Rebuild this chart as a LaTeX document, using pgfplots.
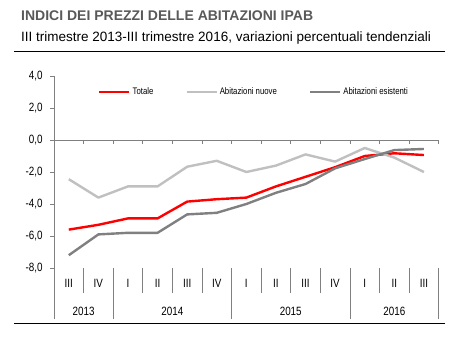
\documentclass[border=0pt]{standalone}
\usepackage{pgfplots}
\pgfplotsset{compat=1.18}
\usepackage{fontspec}
\setmainfont{Liberation Sans}
\newfontfamily\narrow[FakeStretch=0.82]{Liberation Sans}
\definecolor{tot}{RGB}{255,0,0}
\definecolor{nuove}{RGB}{192,192,192}
\definecolor{esist}{RGB}{128,128,128}
\definecolor{titgray}{RGB}{89,89,89}
\definecolor{axgray}{RGB}{128,128,128}
\tikzset{qlab/.style={font=\narrow\fontsize{12bp}{14bp}\selectfont, anchor=center}}
\begin{document}
\begin{tikzpicture}
\begin{scope}[shift={(-54bp,-75bp)}, x=1bp, y=1bp]
\path[use as bounding box] (0,0) rectangle (458,343);
\node[anchor=base west, inner sep=0, font=\bfseries\fontsize{14bp}{16bp}\selectfont, text=titgray] at (21,322.3) {INDICI DEI PREZZI DELLE ABITAZIONI IPAB};
\node[anchor=base west, inner sep=0, font=\fontsize{13.5bp}{16bp}\selectfont] at (21,301.3) {III trimestre 2013-III trimestre 2016, variazioni percentuali tendenziali};
\draw[line width=1.2bp] (14,291.3) -- (445,291.3);
\end{scope}
\begin{axis}[at={(0,0)}, anchor=south west, scale only axis,
  width=384.7bp, height=192bp,
  xmin=-0.5, xmax=12.5, ymin=-8, ymax=4, clip=false,
  axis x line*=middle, axis y line*=left,
  axis line style={line width=0.8bp, color=axgray},
  xtick={-0.5,0.5,...,12.5}, xticklabels={},
  ytick={-8,-6,...,4},
  tick align=outside, major tick length=4bp,
  tick style={line width=0.8bp, color=axgray},
  yticklabel style={font=\narrow\fontsize{12bp}{14bp}\selectfont, xshift=-4bp,
    /pgf/number format/fixed, /pgf/number format/fixed zerofill,
    /pgf/number format/precision=1, /pgf/number format/use comma},
  /pgf/number format/assume math mode=true,
  legend style={at={(0.52,0.917)}, anchor=center, draw=none, fill=none,
    legend columns=3, font=\narrow\fontsize{9.5bp}{11bp}\selectfont,
    /tikz/every even column/.append style={column sep=30bp}},
  legend image code/.code={\draw[#1] (0bp,0bp) -- (30bp,0bp);},
  every axis plot/.append style={line width=2.4bp, line join=round},
]
\addplot[tot] coordinates {(0,-5.6) (1,-5.3) (2,-4.9) (3,-4.9) (4,-3.85) (5,-3.7) (6,-3.6) (7,-2.9) (8,-2.3) (9,-1.7) (10,-1.0) (11,-0.83) (12,-0.94)};
\addlegendentry{Totale}
\addplot[nuove] coordinates {(0,-2.45) (1,-3.6) (2,-2.9) (3,-2.9) (4,-1.67) (5,-1.3) (6,-2.0) (7,-1.6) (8,-0.9) (9,-1.35) (10,-0.5) (11,-1.1) (12,-2.0)};
\addlegendentry{Abitazioni nuove}
\addplot[esist] coordinates {(0,-7.2) (1,-5.9) (2,-5.8) (3,-5.8) (4,-4.65) (5,-4.55) (6,-4.0) (7,-3.3) (8,-2.75) (9,-1.77) (10,-1.19) (11,-0.63) (12,-0.56)};
\addlegendentry{Abitazioni esistenti}
\draw[axgray, line width=0.8bp] (axis cs:-0.5,-8) -- (axis cs:-0.5,-11.2);
\pgfplotsinvokeforeach{0.5,2.5,3.5,4.5,6.5,7.5,8.5,10.5,11.5}{
  \draw[axgray, line width=0.8bp] (axis cs:#1,-8) -- (axis cs:#1,-9.5625);}
\pgfplotsinvokeforeach{1.5,5.5,9.5,12.5}{
  \draw[axgray, line width=0.8bp] (axis cs:#1,-8) -- (axis cs:#1,-11.2);}
\draw[black, line width=1.2bp] (axis cs:-1.851,-11.456) -- (axis cs:12.709,-11.456);
\node[qlab] at (axis cs:0,-8.94) {III};
\node[qlab] at (axis cs:1,-8.94) {IV};
\node[qlab] at (axis cs:2,-8.94) {I};
\node[qlab] at (axis cs:3,-8.94) {II};
\node[qlab] at (axis cs:4,-8.94) {III};
\node[qlab] at (axis cs:5,-8.94) {IV};
\node[qlab] at (axis cs:6,-8.94) {I};
\node[qlab] at (axis cs:7,-8.94) {II};
\node[qlab] at (axis cs:8,-8.94) {III};
\node[qlab] at (axis cs:9,-8.94) {IV};
\node[qlab] at (axis cs:10,-8.94) {I};
\node[qlab] at (axis cs:11,-8.94) {II};
\node[qlab] at (axis cs:12,-8.94) {III};
\node[qlab] at (axis cs:0.5,-10.69) {2013};
\node[qlab] at (axis cs:3.5,-10.69) {2014};
\node[qlab] at (axis cs:7.5,-10.69) {2015};
\node[qlab] at (axis cs:11,-10.69) {2016};
\end{axis}
\end{tikzpicture}
\end{document}
